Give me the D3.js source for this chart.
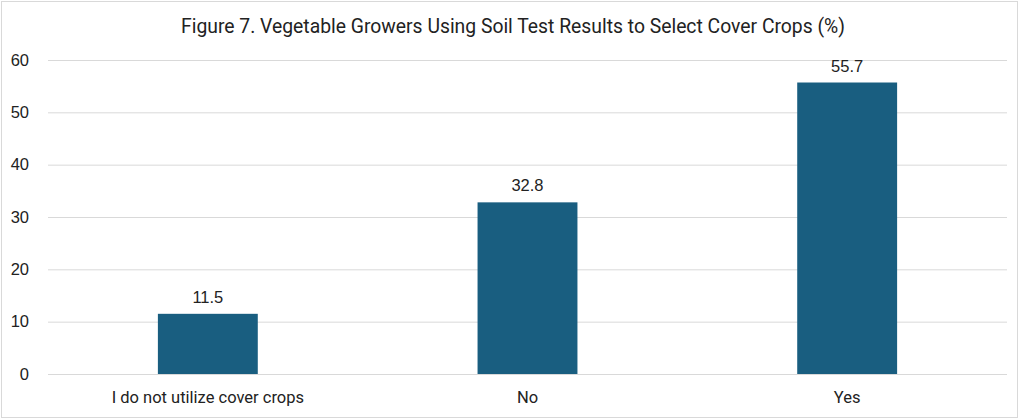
<!DOCTYPE html>
<html>
<head>
<meta charset="utf-8">
<script src="https://cdn.jsdelivr.net/npm/d3@7"></script>
<style>
  body { margin: 0; background: #fff; }
  svg { display: block; }
</style>
</head>
<body>
<div id="container"></div>
<script>
const categories = ["I do not utilize cover crops", "No", "Yes"];
const values = [11.5, 32.8, 55.7];
const yTicks = [0, 10, 20, 30, 40, 50, 60];

const w = 1024; // canvas width
const h = 420; // canvas height
const plotL = 48, plotR = 1007, plotT = 60, plotB = 374;

const svg = d3.select("#container")
    .append("svg")
    .attr("width", w)
    .attr("height", h);

// outer frame
svg.append("rect")
    .attr("x", 1.5).attr("y", 1.5)
    .attr("width", 1016).attr("height", 416)
    .attr("fill", "#fff")
    .attr("stroke", "#d9d9d9");

const title = svg.append("text")
    .attr("x", 513).attr("y", 33)
    .attr("text-anchor", "middle")
    .attr("font-family", "Roboto, sans-serif")
    .attr("font-size", 20)
    .attr("fill", "#222")
    .text("Figure 7. Vegetable Growers Using Soil Test Results to Select Cover Crops (%)");

// squeeze title to the width it takes in the reference
title.attr("textLength", 664).attr("lengthAdjust", "spacingAndGlyphs");

const x = d3.scaleBand()
    .domain(categories)
    .range([plotL, plotR])
    .paddingInner(0.6875)
    .paddingOuter(0.34375);

const y = d3.scaleLinear()
    .domain([0, 60])
    .range([plotB, plotT]);

// gridlines
const yAxis = d3.axisLeft(y)
    .tickValues(yTicks)
    .tickSize(-(plotR - plotL))
    .tickPadding(19);

svg.append("g")
    .attr("transform", `translate(${plotL},0)`)
    .call(yAxis)
    .call(g => g.select(".domain").remove())
    .call(g => g.selectAll(".tick line").attr("stroke", "#d9d9d9"))
    .call(g => g.selectAll(".tick text")
        .attr("font-family", "'Liberation Sans', Arial, sans-serif")
        .attr("font-size", 16.5)
        .attr("fill", "#222"));

svg.selectAll(".bar")
    .data(values)
    .enter().append("rect")
    .attr("class", "bar")
    .attr("x", (d, i) => x(categories[i]))
    .attr("width", x.bandwidth())
    .attr("y", d => y(d))
    .attr("height", d => y(0) - y(d))
    .attr("fill", "#195e80");

svg.selectAll(".val")
    .data(values)
    .enter().append("text")
    .attr("class", "val")
    .attr("x", (d, i) => x(categories[i]) + x.bandwidth() / 2)
    .attr("y", d => y(d) - 11)
    .attr("text-anchor", "middle")
    .attr("font-family", "'Liberation Sans', Arial, sans-serif")
    .attr("font-size", 16.5)
    .attr("fill", "#222")
    .text(d => d.toFixed(1));

const xAxis = d3.axisBottom(x).tickSize(0).tickPadding(17);

svg.append("g")
    .attr("transform", `translate(0,${plotB})`)
    .call(xAxis)
    .call(g => g.select(".domain").remove())
    .call(g => g.selectAll(".tick text")
        .attr("font-family", "Roboto, sans-serif")
        .attr("font-size", 16.5)
        .attr("fill", "#222"));
</script>
</body>
</html>
